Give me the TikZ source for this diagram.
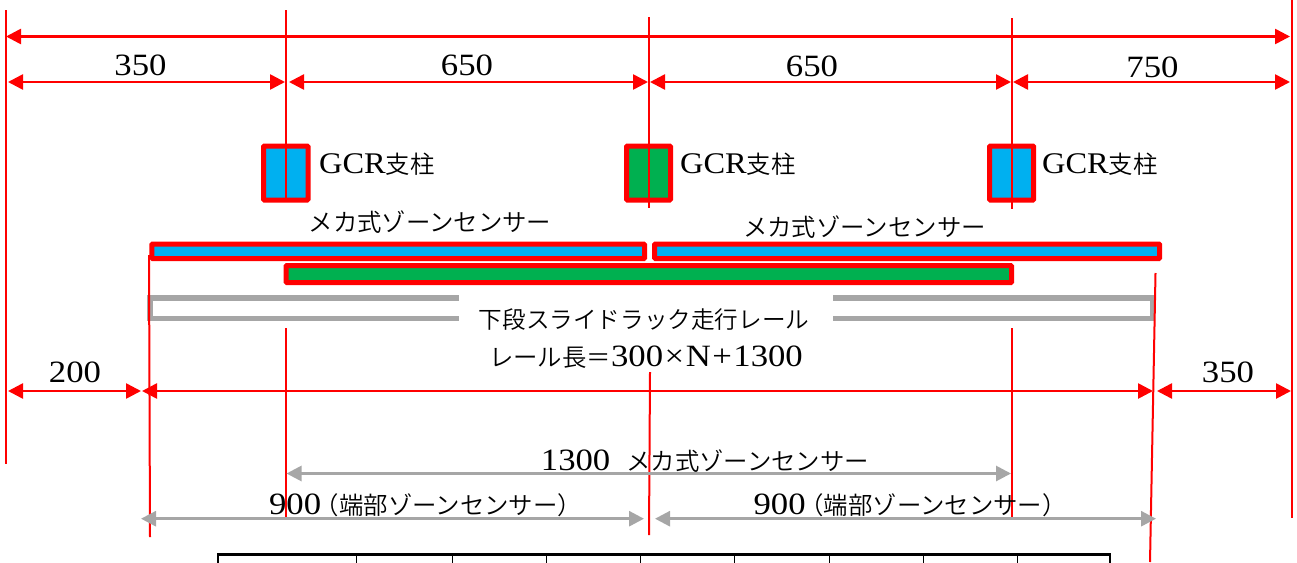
\documentclass[tikz,border=0pt]{standalone}
\usepackage{fontspec}
\usetikzlibrary{arrows.meta}
\setmainfont{Liberation Serif}[FakeStretch=1.12]
\newfontfamily\jp{Noto Sans CJK JP}[UprightFont=* DemiLight,FakeStretch=1.0]
\newfontfamily\jph{Noto Sans CJK JP}[UprightFont=* DemiLight,FakeStretch=1.0,RawFeature=+halt]
\newfontfamily\gcr{Liberation Serif}[FakeStretch=1.08]
\newcommand{\num}{\fontsize{31}{31}\selectfont}
\newcommand{\ja}{\fontsize{24.4}{26}\jp}
\newcommand{\jah}{\fontsize{24.4}{26}\jph}
\definecolor{cblue}{HTML}{00B0F0}
\definecolor{cgreen}{HTML}{00B050}
\definecolor{cgrey}{HTML}{A6A6A6}
\tikzset{
  dimred/.style={draw=red,line width=2.6pt,{Triangle[length=15pt,width=15pt]}-{Triangle[length=15pt,width=15pt]}},
  dimgrey/.style={draw=cgrey,line width=2.8pt,{Triangle[length=15pt,width=15pt]}-{Triangle[length=15pt,width=15pt]}},
  extline/.style={draw=red,line width=2pt},
  bluebox/.style={draw=red,fill=cblue,line width=5pt,rounded corners=0.8pt},
  greenbox/.style={draw=red,fill=cgreen,line width=5pt,rounded corners=0.8pt},
  railline/.style={draw=cgrey,line width=5.5pt},
  txt/.style={inner sep=0pt,text=black},
}
\begin{document}
\begin{tikzpicture}[x=1pt,y=-1pt]
\useasboundingbox (0,0) rectangle (1297,562);
% boxes
\draw[bluebox] (263.5,146) rectangle (308,200);
\draw[greenbox] (626.5,146) rectangle (670.5,200);
\draw[bluebox] (989.5,146) rectangle (1033.5,200);
\draw[bluebox] (151.8,244) rectangle (644.5,258.5);
\draw[bluebox] (654.5,244) rectangle (1159.5,258.5);
\draw[greenbox] (286,265.5) rectangle (1011.5,282.5);
% rail
\draw[railline] (459,298) -- (150,298) -- (150,318.7) -- (459,318.7);
\draw[railline] (833,298) -- (1152.5,298) -- (1152.5,318.7) -- (833,318.7);
% extension lines
\coordinate (e1a) at (6,10);       \coordinate (e1b) at (6,464);
\coordinate (e2a) at (285.5,10);   \coordinate (e2b) at (285.5,200);
\coordinate (e3a) at (285.5,328);  \coordinate (e3b) at (285.5,517);
\coordinate (e4a) at (649,17);     \coordinate (e4b) at (649,208);
\coordinate (e5a) at (650,372);    \coordinate (e5b) at (649,535);
\coordinate (e6a) at (1012,18);    \coordinate (e6b) at (1012,209);
\coordinate (e7a) at (1012,328);   \coordinate (e7b) at (1012,517);
\coordinate (e8a) at (1291.5,0);   \coordinate (e8b) at (1291.5,518);
\coordinate (e9a) at (149,255);    \coordinate (e9b) at (150,537);
\coordinate (e10a) at (1155.5,273);\coordinate (e10b) at (1150,562);
\foreach \i in {1,...,10} \draw[extline] (e\i a) -- (e\i b);
% red dimensions
\coordinate (t1) at (6,36.5);    \coordinate (t2) at (1290,36.5);
\draw[dimred] (t1) -- (t2);
\coordinate (a0) at (8,82);      \coordinate (a1) at (285,82);
\coordinate (a2) at (289,82);    \coordinate (a3) at (648,82);
\coordinate (a4) at (650,82);    \coordinate (a5) at (1011,82);
\coordinate (a6) at (1013,82);   \coordinate (a7) at (1290,82);
\draw[dimred] (a0) -- (a1);
\draw[dimred] (a2) -- (a3);
\draw[dimred] (a4) -- (a5);
\draw[dimred] (a6) -- (a7);
\coordinate (b0) at (8,391);     \coordinate (b1) at (141,391);
\coordinate (b2) at (142,391);   \coordinate (b3) at (1153,391);
\coordinate (b4) at (1157,391);  \coordinate (b5) at (1291,391);
\draw[dimred] (b0) -- (b1);
\draw[dimred] (b2) -- (b3);
\draw[dimred] (b4) -- (b5);
% grey dimensions
\coordinate (g0) at (286.5,473.5); \coordinate (g1) at (1011,473.5);
\coordinate (g2) at (141,518.7);   \coordinate (g3) at (644,518.7);
\coordinate (g4) at (655,518.7);   \coordinate (g5) at (1156,518.7);
\draw[dimgrey] (g0) -- (g1);
\draw[dimgrey] (g2) -- (g3);
\draw[dimgrey] (g4) -- (g5);
% table at bottom
\draw[black,line width=2.6pt,line cap=rect] (218,565) -- (218,554.5) -- (1110,554.5) -- (1110,565);
\foreach \x in {356,452,546,640,734.5,829,923,1017}
  \draw[black,line width=1pt] (\x,554) -- (\x,565);
% labels
\node[txt,font=\num] (n350) at (140.5,65) {350};
\node[txt,font=\num] (n650a) at (467,65) {650};
\node[txt,font=\num] (n650b) at (812,66) {650};
\node[txt,font=\num] (n750) at (1152.5,67) {750};
\node[txt,font=\num] (n200) at (75,372) {200};
\node[txt,font=\num] (n350b) at (1228,372) {350};
\node[txt,anchor=west] (gc1) at (319,164) {{\fontsize{30}{30}\gcr GCR}{\ja 支柱}};
\node[txt,anchor=west] (gc2) at (680,164) {{\fontsize{30}{30}\gcr GCR}{\ja 支柱}};
\node[txt,anchor=west] (gc3) at (1042,164) {{\fontsize{30}{30}\gcr GCR}{\ja 支柱}};
\node[txt,font=\ja] (s1) at (430,222) {メカ式ゾーンセンサー};
\node[txt,font=\ja] (s2) at (864.5,227) {メカ式ゾーンセンサー};
\node[txt,font=\fontsize{23.6}{26}\jp] (r1) at (644,320) {下段スライドラック走行レール};
\node[txt] (r2) at (646,357) {{\ja レール長＝}{\num 300\hspace{1.5pt}×\hspace{1.5pt}N\hspace{1.5pt}+\hspace{1.5pt}1300}};
\node[txt] (c1) at (705,461) {{\num 1300}\hspace{16pt}{\ja メカ式ゾーンセンサー}};
\node[txt] (c2) at (419.5,505) {{\num 900}\hspace{6pt}{\jah （端部ゾーンセンサー）}};
\node[txt] (c3) at (904,505) {{\num 900}\hspace{6pt}{\jah （端部ゾーンセンサー）}};
\end{tikzpicture}
\end{document}
